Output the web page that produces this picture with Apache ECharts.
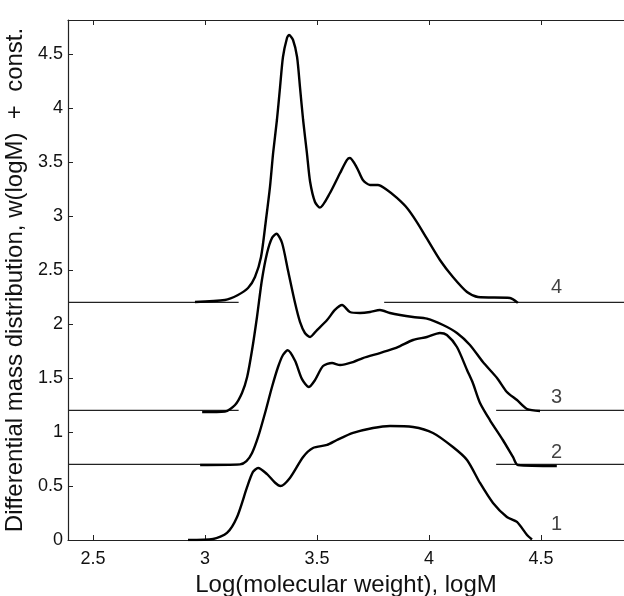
<!DOCTYPE html>
<html>
<head>
<meta charset="utf-8">
<script src="https://cdn.jsdelivr.net/npm/echarts@6/dist/echarts.min.js"></script>
<style>html,body{margin:0;padding:0;background:#fff}#c{width:624px;height:596px}</style>
</head>
<body>
<div id="c"></div>
<script>
// x = log(molecular weight), y = differential mass distribution + constant
var curve1 = [[2.924,0],[3.036,0.009],[3.098,0.065],[3.143,0.213],[3.188,0.491],[3.214,0.630],[3.237,0.667],[3.277,0.610],[3.313,0.530],[3.337,0.500],[3.379,0.575],[3.438,0.769],[3.482,0.852],[3.545,0.880],[3.589,0.926],[3.661,0.991],[3.750,1.037],[3.826,1.056],[3.929,1.046],[4.018,0.991],[4.107,0.861],[4.170,0.741],[4.228,0.528],[4.286,0.343],[4.348,0.213],[4.393,0.167],[4.438,0.046],[4.460,0.005]];
var curve2 = [[2.978,0.694],[3.156,0.700],[3.185,0.730],[3.210,0.806],[3.237,0.954],[3.268,1.176],[3.299,1.417],[3.326,1.602],[3.348,1.713],[3.369,1.757],[3.402,1.660],[3.433,1.490],[3.464,1.417],[3.491,1.481],[3.527,1.611],[3.567,1.639],[3.603,1.620],[3.661,1.648],[3.705,1.685],[3.781,1.731],[3.839,1.769],[3.871,1.796],[3.929,1.852],[3.991,1.880],[4.049,1.917],[4.080,1.898],[4.125,1.787],[4.170,1.574],[4.196,1.454],[4.228,1.269],[4.272,1.111],[4.330,0.926],[4.375,0.769],[4.397,0.694],[4.571,0.685]];
var curve3 = [[2.987,1.185],[3.089,1.190],[3.134,1.250],[3.165,1.361],[3.188,1.509],[3.210,1.759],[3.232,2.065],[3.254,2.407],[3.277,2.657],[3.299,2.796],[3.319,2.836],[3.344,2.750],[3.371,2.490],[3.402,2.194],[3.424,2.020],[3.446,1.917],[3.469,1.880],[3.500,1.944],[3.545,2.037],[3.580,2.130],[3.612,2.176],[3.647,2.111],[3.692,2.102],[3.737,2.111],[3.781,2.130],[3.826,2.102],[3.871,2.083],[3.929,2.065],[3.991,2.050],[4.063,1.991],[4.125,1.917],[4.183,1.806],[4.241,1.648],[4.304,1.500],[4.348,1.370],[4.393,1.296],[4.438,1.213],[4.496,1.194]];
var curve4 = [[2.955,2.204],[3.089,2.222],[3.147,2.269],[3.192,2.333],[3.223,2.435],[3.250,2.620],[3.272,2.963],[3.290,3.269],[3.304,3.583],[3.321,3.889],[3.335,4.194],[3.348,4.472],[3.366,4.648],[3.375,4.676],[3.393,4.630],[3.411,4.472],[3.424,4.194],[3.438,3.889],[3.455,3.583],[3.469,3.320],[3.491,3.130],[3.513,3.078],[3.558,3.213],[3.603,3.398],[3.634,3.519],[3.647,3.537],[3.679,3.444],[3.705,3.333],[3.737,3.287],[3.772,3.287],[3.813,3.241],[3.857,3.167],[3.902,3.074],[3.946,2.944],[3.991,2.790],[4.049,2.593],[4.107,2.435],[4.170,2.296],[4.219,2.250],[4.362,2.241],[4.397,2.195]];
// baseline offsets (the "const.")
var offsets = [0.7, 1.2, 2.2];
var baseLeftEnd = 3.15;
var baseRightStart = [4.30, 4.30, 3.80];
var xTicks = [2.5, 3, 3.5, 4, 4.5];
var yTicks = [0, 0.5, 1, 1.5, 2, 2.5, 3, 3.5, 4, 4.5];
var curveNames = ['1', '2', '3', '4'];
var nameX = 4.57;
var nameY = [0.14, 0.806, 1.324, 2.338];
var xMin = 2.388, xMax = 4.871, yMin = 0, yMax = 4.815;

var series = [];
[curve1, curve2, curve3, curve4].forEach(function (d, i) {
  series.push({type: 'line', data: d, showSymbol: false, smooth: 0.25, z: 3,
    lineStyle: {color: '#000', width: 2.4}});
});
offsets.forEach(function (o, i) {
  series.push({type: 'line', data: [[xMin, o], [baseLeftEnd, o]], showSymbol: false,
    lineStyle: {color: '#222', width: 1.3}, z: 2});
  series.push({type: 'line', data: [[baseRightStart[i], o], [xMax, o]], showSymbol: false,
    lineStyle: {color: '#222', width: 1.3}, z: 2});
});
series.push({type: 'scatter', symbolSize: 0,
  data: curveNames.map(function (n, i) { return [nameX, nameY[i], n]; }),
  label: {show: true, position: 'inside', formatter: function (p) { return p.value[2]; },
    color: '#111', fontSize: 20, fontFamily: 'Liberation Sans'}});

var chart = echarts.init(document.getElementById('c'), null, {renderer: 'canvas'});
chart.setOption({
  animation: false,
  backgroundColor: '#fff',
  grid: {left: 68, right: 0, top: 20, bottom: 56, containLabel: false, outerBoundsMode: 'none'},
  xAxis: [{
    type: 'value', min: xMin, max: xMax, position: 'bottom',
    name: 'Log(molecular weight), logM', nameLocation: 'middle', nameGap: 29,
    nameTextStyle: {fontSize: 24, color: '#111', fontFamily: 'Liberation Sans'},
    axisLine: {show: true, onZero: false, lineStyle: {color: '#222', width: 1.2}},
    axisTick: {show: true, inside: true, length: 5, customValues: xTicks, lineStyle: {color: '#222'}},
    axisLabel: {customValues: xTicks, fontSize: 18, color: '#111', margin: 10, fontFamily: 'Liberation Sans',
      formatter: function (v) { return String(v); }},
    splitLine: {show: false}
  }, {
    type: 'value', min: xMin, max: xMax, position: 'top',
    axisLine: {show: true, onZero: false, lineStyle: {color: '#222', width: 1.2}},
    axisTick: {show: true, inside: true, length: 5, customValues: xTicks, lineStyle: {color: '#222'}},
    axisLabel: {show: false},
    splitLine: {show: false}
  }],
  yAxis: {
    type: 'value', min: yMin, max: yMax,
    name: 'Differential mass distribution, w(logM)  +  const.', nameLocation: 'middle', nameGap: 32,
    nameTextStyle: {fontSize: 24, color: '#111', fontFamily: 'Liberation Sans'},
    axisLine: {show: true, lineStyle: {color: '#222', width: 1.2}},
    axisTick: {show: true, inside: true, length: 5, customValues: yTicks, lineStyle: {color: '#222'}},
    axisLabel: {customValues: yTicks, fontSize: 18, color: '#111', margin: 5, fontFamily: 'Liberation Sans',
      formatter: function (v) { return String(v); }},
    splitLine: {show: false}
  },
  series: series
});
</script>
</body>
</html>
